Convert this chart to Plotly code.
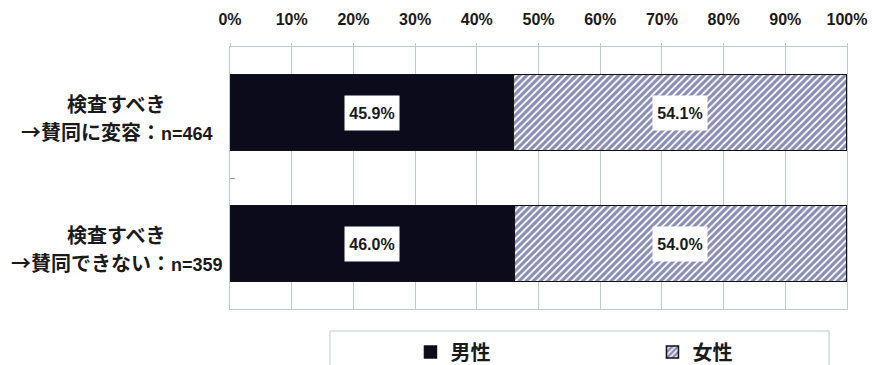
import plotly.graph_objects as go

categories = ["検査すべき<br>→賛同に変容：n=464", "検査すべき<br>→賛同できない：n=359"]
series_names = ["男性", "女性"]
male = [45.9, 46.0]
female = [54.1, 54.0]
tick_vals = [0, 10, 20, 30, 40, 50, 60, 70, 80, 90, 100]
tick_text = [f"{v}%" for v in tick_vals]

FONT = "Liberation Sans, Noto Sans CJK JP, sans-serif"
CJK = "Noto Sans CJK JP, sans-serif"
GRID = "#b9cccc"
TXT = "#1a1a1a"

fig = go.Figure()
fig.add_trace(go.Bar(
    y=categories, x=male, name=series_names[0], orientation="h",
    marker=dict(color="#0b0b1c", line=dict(color="#111111", width=1.5)),
    hoverinfo="x+name",
))
fig.add_trace(go.Bar(
    y=categories, x=female, name=series_names[1], orientation="h",
    marker=dict(color="white", line=dict(color="#111111", width=1.5),
                pattern=dict(shape="/", fgcolor="#141c66", bgcolor="white",
                             size=5, solidity=0.65)),
    hoverinfo="x+name",
))

annotations = []
# data labels (white boxes centered in each segment)
for cat, m, f in zip(categories, male, female):
    for xc, val in ((m / 2, m), (m + f / 2, f)):
        annotations.append(dict(
            x=xc, y=cat, xref="x", yref="y", text=f"{val:.1f}%",
            showarrow=False, bgcolor="white", borderpad=3, width=48, height=28,
            font=dict(family=FONT, size=16, color=TXT, weight="bold"),
        ))
# category labels, centered lines
for cat in categories:
    lines = cat.split("<br>")
    for i, ln in enumerate(lines):
        if "：" in ln:
            head, tail = ln.split("：", 1)
            ln = (f'{head}：<span style="font-family:Liberation Sans;font-size:18px">'
                  f'{tail}</span>')
        annotations.append(dict(
            x=-0.1838, y=cat, xref="paper", yref="y", text=ln,
            showarrow=False, xanchor="center", yanchor="middle",
            yshift=9 - 28 * i,
            font=dict(family=CJK, size=20, color=TXT, weight="bold"),
        ))

fig.update_layout(
    width=872, height=365,
    margin=dict(l=230, r=25, t=47, b=56, autoexpand=False),
    barmode="stack", bargap=0.42,
    paper_bgcolor="white", plot_bgcolor="white",
    font=dict(family=FONT, color=TXT),
    showlegend=True,
    legend=dict(orientation="h", x=0.2925, xanchor="left", y=-0.09, yanchor="top",
                traceorder="normal",
                entrywidth=197, entrywidthmode="pixels",
                font=dict(family=CJK, size=20, color=TXT, weight="bold"),
                bgcolor="rgba(0,0,0,0)", borderwidth=0),
    annotations=annotations,
    shapes=[dict(type="rect", xref="paper", yref="paper",
                 x0=0.162, x1=0.971, y0=-0.084, y1=-0.35,
                 line=dict(color=GRID, width=1), fillcolor="rgba(0,0,0,0)",
                 layer="below")],
)
fig.update_xaxes(
    side="top", range=[0, 100], tickvals=tick_vals, ticktext=tick_text,
    showgrid=True, gridcolor=GRID, gridwidth=1, zeroline=False,
    showline=True, linecolor=GRID, mirror=True,
    ticks="outside", ticklen=3, tickcolor=GRID, ticklabelstandoff=12,
    tickfont=dict(family=FONT, size=16, color=TXT, weight="bold"),
    fixedrange=True,
)
fig.update_yaxes(
    autorange="reversed", showticklabels=False,
    showline=True, linecolor=GRID, mirror=True, showgrid=False,
    ticks="inside", tickson="boundaries", ticklen=5, tickcolor="#999999",
    fixedrange=True,
)

fig.write_html("out.html", config={"displayModeBar": False},
               post_script="document.body.style.margin='0';document.body.style.padding='0';")
